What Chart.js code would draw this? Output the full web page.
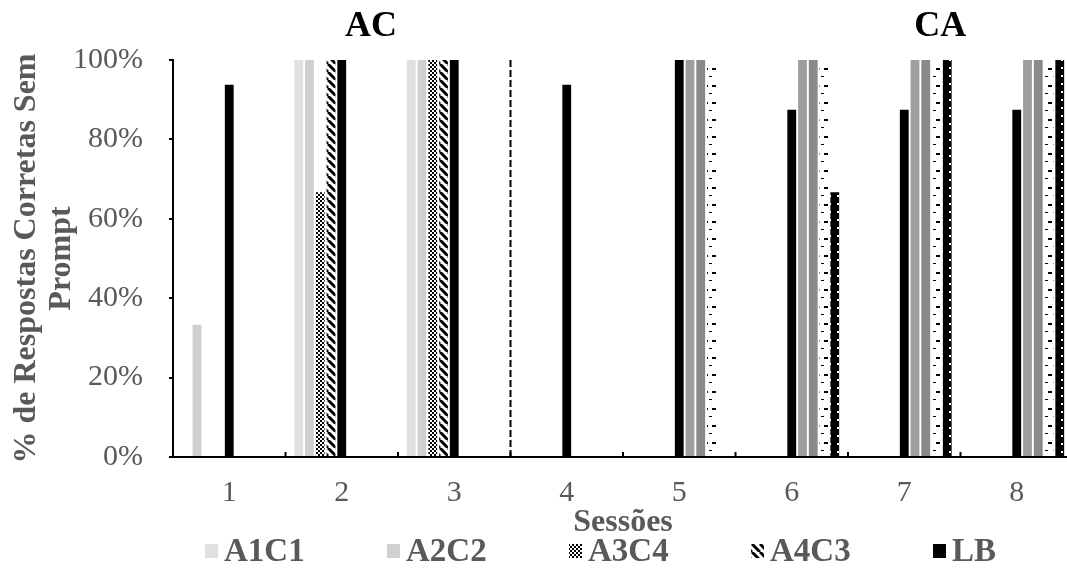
<!DOCTYPE html>
<html>
<head>
<meta charset="utf-8">
<script src="https://cdn.jsdelivr.net/npm/chart.js@4.4.1/dist/chart.umd.min.js"></script>
<style>
  html, body { margin: 0; padding: 0; background: #fff; overflow: hidden; }
  #wrap { width: 1075px; height: 572px; }
</style>
</head>
<body>
<div id="wrap"><canvas id="grafica" width="1075" height="572"></canvas></div>
<script>
// datos (% respuestas correctas sin prompt)
const sessoes = ['1', '2', '3', '4', '5', '6', '7', '8'];
const yTicks = [0, 20, 40, 60, 80, 100];
const nomes = ['A1C1', 'A2C2', 'A3C4', 'A4C3', 'LB', 'CA1', 'CA2', 'CA3', 'CA4'];

const a1c1 = [0, 100, 100, 0, 0, 0, 0, 0];
const a2c2 = [33.33, 100, 100, 0, 0, 0, 0, 0];
const a3c4 = [0, 66.67, 100, 0, 0, 0, 0, 0];
const a4c3 = [0, 100, 100, 0, 0, 0, 0, 0];
const lb = [93.75, 100, 100, 93.75, 100, 87.5, 87.5, 87.5];
const ca1 = [0, 0, 0, 0, 100, 100, 100, 100];
const ca2 = [0, 0, 0, 0, 100, 100, 100, 100];
const ca3 = [0, 0, 0, 0, 100, 100, 100, 100];
const ca4 = [0, 0, 0, 0, 0, 66.67, 100, 100];

const fases = [{ texto: 'AC', pos: 1.26 }, { texto: 'CA', pos: 6.32 }];
const mudancaFase = 2.5;

const canvas = document.getElementById('grafica');
const ctx = canvas.getContext('2d');

function patron(w, h, fondo, dibujar) {
    const c = document.createElement('canvas');
    c.width = w; c.height = h;
    const g = c.getContext('2d');
    g.fillStyle = fondo;
    g.fillRect(0, 0, w, h);
    dibujar(g);
    return ctx.createPattern(c, 'repeat');
}

const xadrez = patron(4, 4, '#fff', function (g) {
    g.fillStyle = '#000';
    g.fillRect(0, 0, 2, 2);
    g.fillRect(2, 2, 2, 2);
});
const diagonal = patron(8, 8, '#fff', function (g) {
    g.strokeStyle = '#000';
    g.lineWidth = 3;
    [-8, 0, 8].forEach(function (k) {
        g.beginPath(); g.moveTo(k, 0); g.lineTo(k + 8, 8); g.stroke();
    });
});
const tracejado = patron(8, 17, '#fff', function (g) {
    g.fillStyle = '#000';
    g.fillRect(0, 0, 4, 2);
    g.fillRect(5, 8, 3, 1);
});
const pontilhado = patron(8, 8, '#000', function (g) {
    g.fillStyle = '#fff';
    g.fillRect(5, 3, 2, 2);
});

const series = [a1c1, a2c2, a3c4, a4c3, lb, ca1, ca2, ca3, ca4];
const fundos = ['#e0e0e0', '#d0d0d0', xadrez, diagonal, '#000', '#9e9e9e', '#8a8a8a', tracejado, pontilhado];

const extras = {
    id: 'extras',
    afterDatasetsDraw(chart) {
        const x = chart.scales.x;
        const area = chart.chartArea;
        const c = chart.ctx;
        c.save();
        // linha de mudanca de fase
        c.strokeStyle = '#000';
        c.lineWidth = 2;
        c.setLineDash([7, 3]);
        const xf = x.getPixelForValue(mudancaFase);
        c.beginPath(); c.moveTo(xf, area.top); c.lineTo(xf, area.bottom); c.stroke();
        c.setLineDash([]);
        // marcas do eixo x (para dentro)
        for (let i = 0; i < sessoes.length - 1; i++) {
            const xt = x.getPixelForValue(i + 0.5);
            c.beginPath(); c.moveTo(xt, area.bottom); c.lineTo(xt, area.bottom - 5); c.stroke();
        }
        // titulos das fases
        c.fillStyle = '#000';
        c.font = 'bold 36px "Liberation Serif"';
        c.textAlign = 'center';
        c.textBaseline = 'middle';
        fases.forEach(function (f) {
            c.fillText(f.texto, x.getPixelForValue(f.pos), 27);
        });
        c.restore();
    },
    afterDraw(chart) {
        const c = chart.ctx;
        const area = chart.chartArea;
        c.save();
        c.font = 'bold 33px "Liberation Serif"';
        c.textBaseline = 'middle';
        c.textAlign = 'left';
        for (let i = 0; i < 5; i++) {
            const lx = area.left + 32 + i * 182;
            c.fillStyle = fundos[i];
            c.fillRect(lx, 544, 13, 14);
            c.fillStyle = '#595959';
            c.fillText(nomes[i], lx + 19, 552);
        }
        c.restore();
    }
};

new Chart(ctx, {
    type: 'bar',
    data: {
        labels: sessoes,
        datasets: series.map(function (d, i) {
            return {
                label: nomes[i],
                data: d,
                backgroundColor: fundos[i],
                borderWidth: 0,
                categoryPercentage: 0.86,
                barPercentage: 0.82
            };
        })
    },
    options: {
        responsive: false,
        animation: false,
        layout: { padding: { top: 60, left: 0, right: 2, bottom: 33 } },
        plugins: {
            legend: { display: false },
            tooltip: { enabled: false }
        },
        scales: {
            x: {
                grid: { display: false, drawTicks: false },
                border: { display: true, color: '#000', width: 2 },
                ticks: {
                    color: '#595959',
                    padding: 18,
                    font: { family: 'Liberation Serif', size: 30 }
                },
                title: {
                    display: true,
                    text: 'Sessões',
                    color: '#595959',
                    font: { family: 'Liberation Serif', size: 32, weight: 'bold', lineHeight: 1 },
                    padding: { top: 0, bottom: 0 }
                },
                afterFit(scale) { scale.height = 82; }
            },
            y: {
                min: 0,
                max: 100,
                afterBuildTicks(scale) {
                    scale.ticks = yTicks.map(function (v) { return { value: v }; });
                },
                grid: { display: true, drawOnChartArea: false, drawTicks: true, tickLength: 4, color: '#000', lineWidth: 2 },
                border: { display: true, color: '#000', width: 2 },
                ticks: {
                    color: '#595959',
                    padding: 26,
                    font: { family: 'Liberation Serif', size: 30 },
                    callback: function (v) { return v + '%'; }
                },
                title: {
                    display: true,
                    text: ['% de Respostas Corretas Sem', 'Prompt'],
                    color: '#595959',
                    font: { family: 'Liberation Serif', size: 32, weight: 'bold', lineHeight: 1.1 },
                    padding: { top: 9, bottom: 0 }
                },
                afterFit(scale) { scale.width = 173; }
            }
        }
    },
    plugins: [extras]
});
</script>
</body>
</html>
